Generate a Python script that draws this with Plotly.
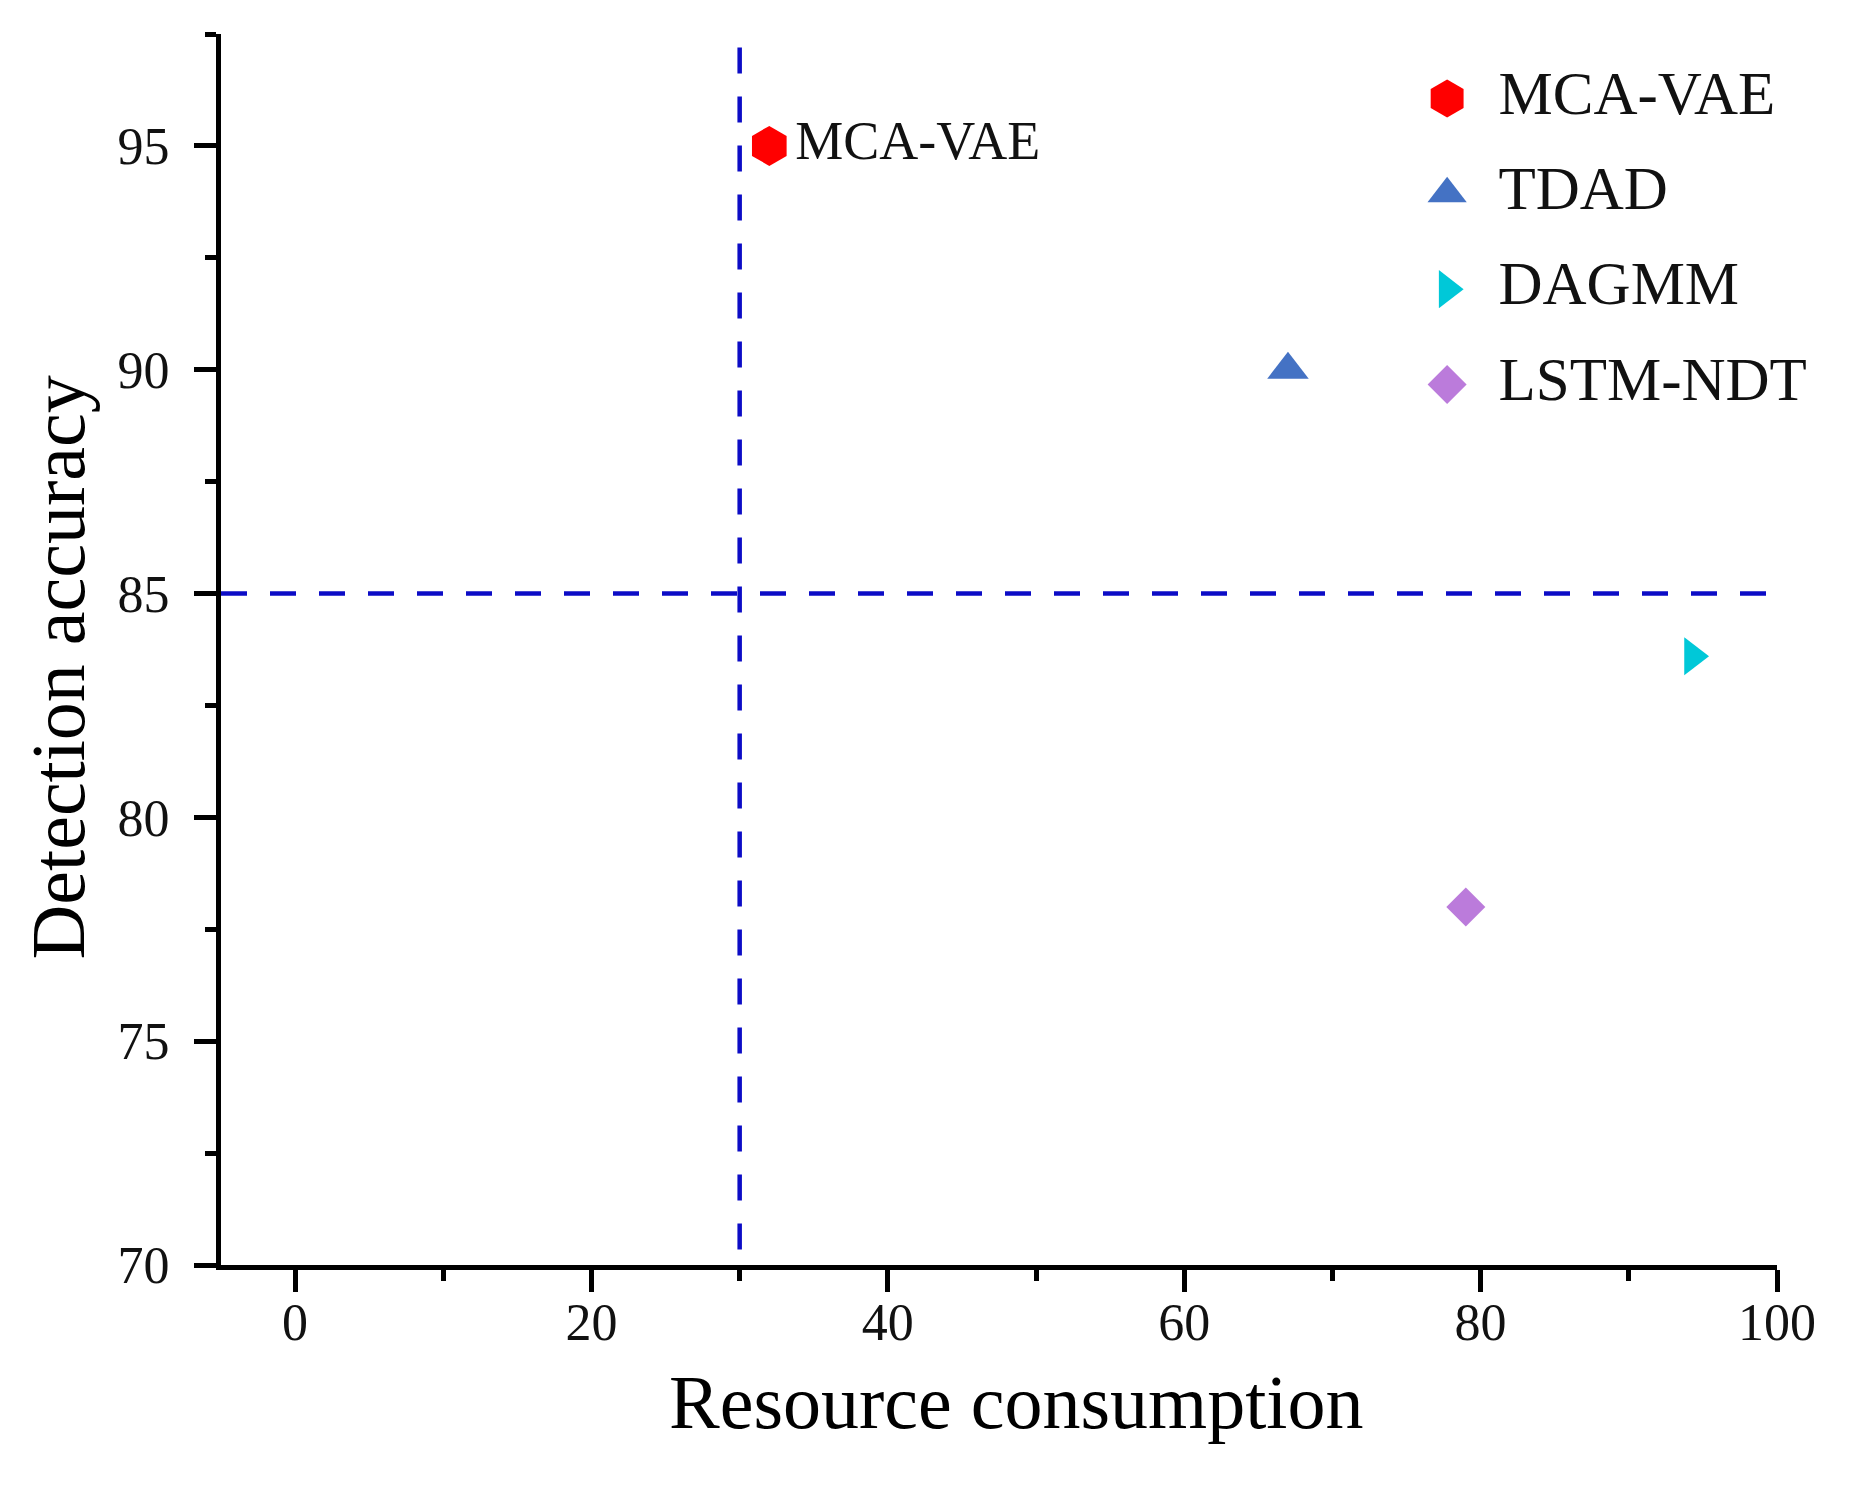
import plotly.graph_objects as go

# data
methods = ["MCA-VAE", "TDAD", "DAGMM", "LSTM-NDT"]
resource = [32, 67, 94.3, 79]
accuracy = [95, 90, 83.6, 78]

# threshold lines
res_threshold = 30
acc_threshold = 85
x_limits = [-5, 100]
y_limits = [70, 97.5]
vline_top = 97.2

# styling per method
colors = ["#ff0000", "#4472c4", "#00c8d8", "#bb7bdb"]
symbols = ["hexagon", "triangle-up", "triangle-right", "diamond"]
sizes = [40, 36, 33, 30]

FONT = "Liberation Serif, Times New Roman, serif"
LINE_BLUE = "#0c0cc6"
DASH = "26px,23px"

fig = go.Figure()

# dashed reference lines (vertical one drawn top-down so a dash starts at the top)
fig.add_trace(go.Scatter(
    x=[res_threshold, res_threshold], y=[vline_top, y_limits[0]],
    mode="lines", line=dict(color=LINE_BLUE, width=4.5, dash=DASH),
    showlegend=False, hoverinfo="skip"
))
fig.add_trace(go.Scatter(
    x=x_limits, y=[acc_threshold, acc_threshold],
    mode="lines", line=dict(color=LINE_BLUE, width=4.5, dash=DASH),
    showlegend=False, hoverinfo="skip"
))

# one trace per method
for i, name in enumerate(methods):
    fig.add_trace(go.Scatter(
        x=[resource[i]], y=[accuracy[i]],
        mode="markers+text" if i == 0 else "markers",
        text=[name] if i == 0 else None,
        textposition="middle right",
        textfont=dict(family=FONT, size=54, color="#111111"),
        marker=dict(symbol=symbols[i], color=colors[i], size=sizes[i],
                    opacity=1, line=dict(width=0)),
        name=name, showlegend=False, cliponaxis=False
    ))

# hand-made legend (plotly caps legend marker sizes)
fig.add_trace(go.Scatter(
    x=[0.788] * len(methods), y=methods,
    mode="markers", xaxis="x2", yaxis="y2",
    marker=dict(symbol=symbols, color=colors, size=[38, 34, 33, 30],
                opacity=1, line=dict(width=0)),
    showlegend=False, hoverinfo="skip", cliponaxis=False
))
fig.add_trace(go.Scatter(
    x=[0.821] * len(methods), y=methods,
    mode="text", text=methods, textposition="middle right",
    textfont=dict(family=FONT, size=61, color="#111111"),
    xaxis="x2", yaxis="y2",
    showlegend=False, hoverinfo="skip", cliponaxis=False
))

axis_common = dict(
    showline=True, linecolor="black", linewidth=5, mirror=False,
    ticks="outside", ticklen=22, tickwidth=5, tickcolor="black",
    showgrid=False, zeroline=False,
    tickfont=dict(family=FONT, size=52, color="#111111"),
)

fig.update_layout(
    width=1859, height=1488,
    margin=dict(l=213, r=90, t=26, b=231, autoexpand=False),
    paper_bgcolor="white",
    plot_bgcolor="rgba(0,0,0,0)",
    font=dict(family=FONT, color="#111111"),
    showlegend=False,
    xaxis=dict(
        range=x_limits, tick0=0, dtick=20, ticklabelstandoff=-14,
        minor=dict(dtick=10, tick0=0, ticks="outside", ticklen=11, tickwidth=5, tickcolor="black"),
        **axis_common
    ),
    yaxis=dict(
        range=y_limits, tick0=70, dtick=5, ticklabelstandoff=14,
        minor=dict(dtick=2.5, tick0=70, ticks="outside", ticklen=11, tickwidth=5, tickcolor="black"),
        **axis_common
    ),
    xaxis2=dict(range=[0, 1], overlaying="x", anchor="y2", visible=False),
    yaxis2=dict(type="category", categoryarray=methods, categoryorder="array",
                range=[12.23, -0.675], overlaying="y", anchor="x2", visible=False),
    annotations=[
        dict(text="Resource consumption", xref="paper", yref="paper",
             x=0.511, y=-0.111, xanchor="center", yanchor="middle",
             showarrow=False, font=dict(family=FONT, size=76, color="black")),
        dict(text="Detection accuracy", xref="paper", yref="paper",
             x=-0.105, y=0.485, xanchor="center", yanchor="middle", textangle=-90,
             showarrow=False, font=dict(family=FONT, size=76, color="black")),
    ],
)

fig.write_html("out.html")
